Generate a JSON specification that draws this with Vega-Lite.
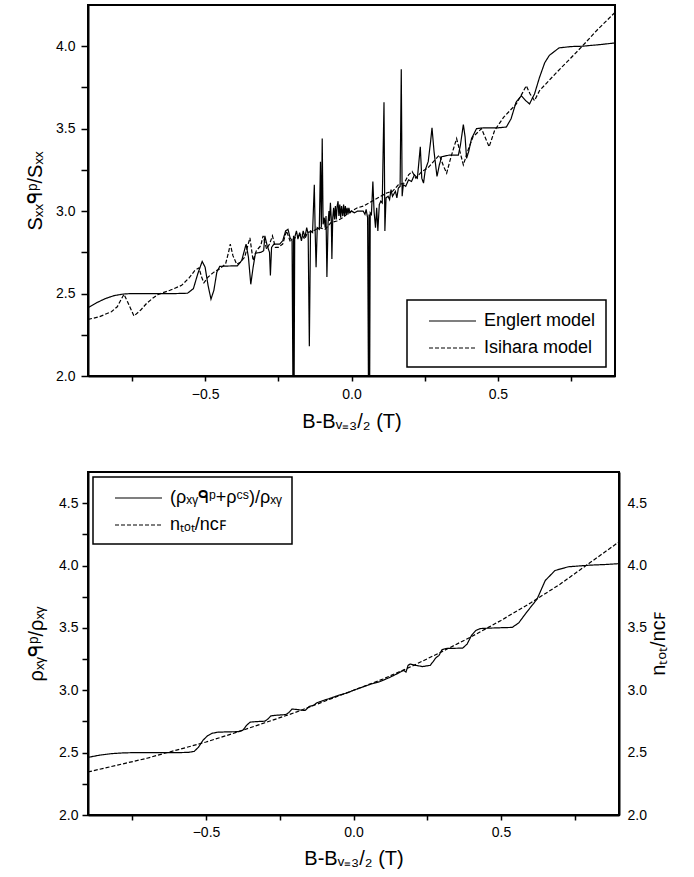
{
  "$schema": "https://vega.github.io/schema/vega-lite/v6.json",
  "padding": {"left": 24, "top": 4, "right": 5, "bottom": 5},
  "background": "white",
  "config": {
    "font": "Liberation Sans",
    "view": {"stroke": "black", "strokeWidth": 2},
    "axis": {
      "grid": false,
      "domainColor": "black",
      "domainWidth": 2,
      "tickColor": "black",
      "tickWidth": 1.5,
      "labelColor": "black",
      "labelFontSize": 14,
      "titleColor": "black",
      "titleFontSize": 20,
      "titleFontWeight": "normal",
      "labelFont": "Liberation Sans",
      "titleFont": "Liberation Sans"
    },
    "legend": {
      "strokeColor": "black",
      "strokeWidth": 1.5,
      "fillColor": "white",
      "labelFontSize": 18,
      "labelColor": "black",
      "labelFont": "Liberation Sans",
      "symbolType": "M0.1,0H4.8",
      "symbolStrokeColor": "black",
      "symbolStrokeWidth": 1.2,
      "symbolSize": 400,
      "rowPadding": 7,
      "labelOffset": 45,
      "padding": 10,
      "labelExpr": "datum.label + '\u00a0\u00a0\u00a0'"
    }
  },
  "resolve": {"scale": {"strokeDash": "independent"}, "legend": {"strokeDash": "independent"}},
  "datasets": {
    "top": [
      {"x": -0.9, "y": 2.414, "s": "Englert model"},
      {"x": -0.87, "y": 2.445, "s": "Englert model"},
      {"x": -0.84, "y": 2.47, "s": "Englert model"},
      {"x": -0.81, "y": 2.488, "s": "Englert model"},
      {"x": -0.78, "y": 2.497, "s": "Englert model"},
      {"x": -0.75, "y": 2.5, "s": "Englert model"},
      {"x": -0.7, "y": 2.5, "s": "Englert model"},
      {"x": -0.65, "y": 2.5, "s": "Englert model"},
      {"x": -0.6, "y": 2.5, "s": "Englert model"},
      {"x": -0.56, "y": 2.502, "s": "Englert model"},
      {"x": -0.54, "y": 2.53, "s": "Englert model"},
      {"x": -0.525, "y": 2.62, "s": "Englert model"},
      {"x": -0.51, "y": 2.695, "s": "Englert model"},
      {"x": -0.5, "y": 2.66, "s": "Englert model"},
      {"x": -0.49, "y": 2.55, "s": "Englert model"},
      {"x": -0.48, "y": 2.466, "s": "Englert model"},
      {"x": -0.47, "y": 2.52, "s": "Englert model"},
      {"x": -0.46, "y": 2.63, "s": "Englert model"},
      {"x": -0.45, "y": 2.665, "s": "Englert model"},
      {"x": -0.42, "y": 2.667, "s": "Englert model"},
      {"x": -0.39, "y": 2.668, "s": "Englert model"},
      {"x": -0.375, "y": 2.7, "s": "Englert model"},
      {"x": -0.36, "y": 2.8, "s": "Englert model"},
      {"x": -0.352, "y": 2.72, "s": "Englert model"},
      {"x": -0.344, "y": 2.556, "s": "Englert model"},
      {"x": -0.336, "y": 2.66, "s": "Englert model"},
      {"x": -0.328, "y": 2.745, "s": "Englert model"},
      {"x": -0.31, "y": 2.75, "s": "Englert model"},
      {"x": -0.3, "y": 2.76, "s": "Englert model"},
      {"x": -0.296, "y": 2.85, "s": "Englert model"},
      {"x": -0.288, "y": 2.79, "s": "Englert model"},
      {"x": -0.28, "y": 2.75, "s": "Englert model"},
      {"x": -0.277, "y": 2.61, "s": "Englert model"},
      {"x": -0.273, "y": 2.78, "s": "Englert model"},
      {"x": -0.265, "y": 2.8, "s": "Englert model"},
      {"x": -0.245, "y": 2.8, "s": "Englert model"},
      {"x": -0.235, "y": 2.82, "s": "Englert model"},
      {"x": -0.225, "y": 2.88, "s": "Englert model"},
      {"x": -0.217, "y": 2.89, "s": "Englert model"},
      {"x": -0.21, "y": 2.84, "s": "Englert model"},
      {"x": -0.203, "y": 2.82, "s": "Englert model"},
      {"x": -0.2, "y": 1.9, "s": "Englert model"},
      {"x": -0.198, "y": 2.85, "s": "Englert model"},
      {"x": -0.196, "y": 1.9, "s": "Englert model"},
      {"x": -0.194, "y": 2.84, "s": "Englert model"},
      {"x": -0.188, "y": 2.88, "s": "Englert model"},
      {"x": -0.183, "y": 2.83, "s": "Englert model"},
      {"x": -0.177, "y": 2.87, "s": "Englert model"},
      {"x": -0.171, "y": 2.82, "s": "Englert model"},
      {"x": -0.165, "y": 2.88, "s": "Englert model"},
      {"x": -0.159, "y": 2.84, "s": "Englert model"},
      {"x": -0.153, "y": 2.9, "s": "Englert model"},
      {"x": -0.148, "y": 2.86, "s": "Englert model"},
      {"x": -0.144, "y": 2.18, "s": "Englert model"},
      {"x": -0.14, "y": 2.88, "s": "Englert model"},
      {"x": -0.133, "y": 2.87, "s": "Englert model"},
      {"x": -0.127, "y": 3.16, "s": "Englert model"},
      {"x": -0.124, "y": 2.87, "s": "Englert model"},
      {"x": -0.121, "y": 2.66, "s": "Englert model"},
      {"x": -0.117, "y": 2.9, "s": "Englert model"},
      {"x": -0.11, "y": 2.89, "s": "Englert model"},
      {"x": -0.106, "y": 3.3, "s": "Englert model"},
      {"x": -0.103, "y": 2.9, "s": "Englert model"},
      {"x": -0.1, "y": 3.44, "s": "Englert model"},
      {"x": -0.097, "y": 2.92, "s": "Englert model"},
      {"x": -0.093, "y": 2.96, "s": "Englert model"},
      {"x": -0.09, "y": 2.9, "s": "Englert model"},
      {"x": -0.087, "y": 2.97, "s": "Englert model"},
      {"x": -0.084, "y": 2.6, "s": "Englert model"},
      {"x": -0.08, "y": 2.93, "s": "Englert model"},
      {"x": -0.077, "y": 3.0, "s": "Englert model"},
      {"x": -0.075, "y": 2.94, "s": "Englert model"},
      {"x": -0.072, "y": 3.05, "s": "Englert model"},
      {"x": -0.069, "y": 2.95, "s": "Englert model"},
      {"x": -0.067, "y": 2.71, "s": "Englert model"},
      {"x": -0.064, "y": 2.96, "s": "Englert model"},
      {"x": -0.061, "y": 3.02, "s": "Englert model"},
      {"x": -0.058, "y": 2.95, "s": "Englert model"},
      {"x": -0.055, "y": 3.03, "s": "Englert model"},
      {"x": -0.052, "y": 2.95, "s": "Englert model"},
      {"x": -0.049, "y": 3.03, "s": "Englert model"},
      {"x": -0.046, "y": 3.06, "s": "Englert model"},
      {"x": -0.043, "y": 2.97, "s": "Englert model"},
      {"x": -0.04, "y": 3.04, "s": "Englert model"},
      {"x": -0.037, "y": 2.96, "s": "Englert model"},
      {"x": -0.034, "y": 3.03, "s": "Englert model"},
      {"x": -0.03, "y": 2.97, "s": "Englert model"},
      {"x": -0.027, "y": 3.04, "s": "Englert model"},
      {"x": -0.024, "y": 2.97, "s": "Englert model"},
      {"x": -0.021, "y": 3.03, "s": "Englert model"},
      {"x": -0.018, "y": 2.98, "s": "Englert model"},
      {"x": -0.015, "y": 3.02, "s": "Englert model"},
      {"x": -0.012, "y": 2.98, "s": "Englert model"},
      {"x": -0.009, "y": 3.02, "s": "Englert model"},
      {"x": -0.005, "y": 2.99, "s": "Englert model"},
      {"x": 0.0, "y": 3.0, "s": "Englert model"},
      {"x": 0.01, "y": 2.99, "s": "Englert model"},
      {"x": 0.02, "y": 3.0, "s": "Englert model"},
      {"x": 0.03, "y": 3.0, "s": "Englert model"},
      {"x": 0.04, "y": 3.0, "s": "Englert model"},
      {"x": 0.046, "y": 2.98, "s": "Englert model"},
      {"x": 0.05, "y": 3.01, "s": "Englert model"},
      {"x": 0.055, "y": 2.96, "s": "Englert model"},
      {"x": 0.058, "y": 1.9, "s": "Englert model"},
      {"x": 0.06, "y": 2.98, "s": "Englert model"},
      {"x": 0.062, "y": 1.9, "s": "Englert model"},
      {"x": 0.064, "y": 2.99, "s": "Englert model"},
      {"x": 0.068, "y": 2.98, "s": "Englert model"},
      {"x": 0.073, "y": 3.18, "s": "Englert model"},
      {"x": 0.077, "y": 3.0, "s": "Englert model"},
      {"x": 0.082, "y": 2.9, "s": "Englert model"},
      {"x": 0.086, "y": 3.02, "s": "Englert model"},
      {"x": 0.09, "y": 2.88, "s": "Englert model"},
      {"x": 0.095, "y": 3.04, "s": "Englert model"},
      {"x": 0.1, "y": 3.06, "s": "Englert model"},
      {"x": 0.105, "y": 3.05, "s": "Englert model"},
      {"x": 0.111, "y": 3.66, "s": "Englert model"},
      {"x": 0.114, "y": 2.88, "s": "Englert model"},
      {"x": 0.118, "y": 3.08, "s": "Englert model"},
      {"x": 0.125, "y": 3.09, "s": "Englert model"},
      {"x": 0.13, "y": 3.07, "s": "Englert model"},
      {"x": 0.135, "y": 3.13, "s": "Englert model"},
      {"x": 0.14, "y": 3.09, "s": "Englert model"},
      {"x": 0.15, "y": 3.12, "s": "Englert model"},
      {"x": 0.155, "y": 3.08, "s": "Englert model"},
      {"x": 0.16, "y": 3.14, "s": "Englert model"},
      {"x": 0.166, "y": 3.15, "s": "Englert model"},
      {"x": 0.17, "y": 3.86, "s": "Englert model"},
      {"x": 0.173, "y": 3.09, "s": "Englert model"},
      {"x": 0.177, "y": 3.16, "s": "Englert model"},
      {"x": 0.185, "y": 3.15, "s": "Englert model"},
      {"x": 0.195, "y": 3.19, "s": "Englert model"},
      {"x": 0.205, "y": 3.18, "s": "Englert model"},
      {"x": 0.215, "y": 3.22, "s": "Englert model"},
      {"x": 0.225, "y": 3.2, "s": "Englert model"},
      {"x": 0.235, "y": 3.39, "s": "Englert model"},
      {"x": 0.24, "y": 3.2, "s": "Englert model"},
      {"x": 0.246, "y": 3.17, "s": "Englert model"},
      {"x": 0.252, "y": 3.25, "s": "Englert model"},
      {"x": 0.262, "y": 3.3, "s": "Englert model"},
      {"x": 0.27, "y": 3.42, "s": "Englert model"},
      {"x": 0.275, "y": 3.505, "s": "Englert model"},
      {"x": 0.282, "y": 3.36, "s": "Englert model"},
      {"x": 0.292, "y": 3.21, "s": "Englert model"},
      {"x": 0.3, "y": 3.28, "s": "Englert model"},
      {"x": 0.308, "y": 3.33, "s": "Englert model"},
      {"x": 0.335, "y": 3.34, "s": "Englert model"},
      {"x": 0.365, "y": 3.34, "s": "Englert model"},
      {"x": 0.372, "y": 3.4, "s": "Englert model"},
      {"x": 0.382, "y": 3.525, "s": "Englert model"},
      {"x": 0.388, "y": 3.45, "s": "Englert model"},
      {"x": 0.393, "y": 3.32, "s": "Englert model"},
      {"x": 0.4, "y": 3.36, "s": "Englert model"},
      {"x": 0.41, "y": 3.44, "s": "Englert model"},
      {"x": 0.427, "y": 3.5, "s": "Englert model"},
      {"x": 0.45, "y": 3.505, "s": "Englert model"},
      {"x": 0.5, "y": 3.505, "s": "Englert model"},
      {"x": 0.529, "y": 3.51, "s": "Englert model"},
      {"x": 0.545, "y": 3.56, "s": "Englert model"},
      {"x": 0.562, "y": 3.66, "s": "Englert model"},
      {"x": 0.58, "y": 3.7, "s": "Englert model"},
      {"x": 0.595, "y": 3.67, "s": "Englert model"},
      {"x": 0.608, "y": 3.65, "s": "Englert model"},
      {"x": 0.625, "y": 3.71, "s": "Englert model"},
      {"x": 0.642, "y": 3.81, "s": "Englert model"},
      {"x": 0.66, "y": 3.9, "s": "Englert model"},
      {"x": 0.676, "y": 3.945, "s": "Englert model"},
      {"x": 0.709, "y": 3.99, "s": "Englert model"},
      {"x": 0.75, "y": 3.998, "s": "Englert model"},
      {"x": 0.788, "y": 4.0, "s": "Englert model"},
      {"x": 0.85, "y": 4.01, "s": "Englert model"},
      {"x": 0.9, "y": 4.02, "s": "Englert model"},
      {"x": -0.9, "y": 2.343, "s": "Isihara model"},
      {"x": -0.86, "y": 2.36, "s": "Isihara model"},
      {"x": -0.82, "y": 2.39, "s": "Isihara model"},
      {"x": -0.8, "y": 2.42, "s": "Isihara model"},
      {"x": -0.785, "y": 2.47, "s": "Isihara model"},
      {"x": -0.777, "y": 2.495, "s": "Isihara model"},
      {"x": -0.765, "y": 2.45, "s": "Isihara model"},
      {"x": -0.743, "y": 2.364, "s": "Isihara model"},
      {"x": -0.72, "y": 2.4, "s": "Isihara model"},
      {"x": -0.7, "y": 2.44, "s": "Isihara model"},
      {"x": -0.68, "y": 2.47, "s": "Isihara model"},
      {"x": -0.66, "y": 2.495, "s": "Isihara model"},
      {"x": -0.62, "y": 2.52, "s": "Isihara model"},
      {"x": -0.58, "y": 2.55, "s": "Isihara model"},
      {"x": -0.554, "y": 2.596, "s": "Isihara model"},
      {"x": -0.535, "y": 2.64, "s": "Isihara model"},
      {"x": -0.521, "y": 2.656, "s": "Isihara model"},
      {"x": -0.512, "y": 2.6, "s": "Isihara model"},
      {"x": -0.504, "y": 2.565, "s": "Isihara model"},
      {"x": -0.49, "y": 2.6, "s": "Isihara model"},
      {"x": -0.47, "y": 2.63, "s": "Isihara model"},
      {"x": -0.45, "y": 2.65, "s": "Isihara model"},
      {"x": -0.43, "y": 2.68, "s": "Isihara model"},
      {"x": -0.42, "y": 2.75, "s": "Isihara model"},
      {"x": -0.414, "y": 2.8, "s": "Isihara model"},
      {"x": -0.405, "y": 2.73, "s": "Isihara model"},
      {"x": -0.392, "y": 2.677, "s": "Isihara model"},
      {"x": -0.38, "y": 2.69, "s": "Isihara model"},
      {"x": -0.365, "y": 2.72, "s": "Isihara model"},
      {"x": -0.347, "y": 2.838, "s": "Isihara model"},
      {"x": -0.336, "y": 2.7, "s": "Isihara model"},
      {"x": -0.325, "y": 2.76, "s": "Isihara model"},
      {"x": -0.31, "y": 2.79, "s": "Isihara model"},
      {"x": -0.302, "y": 2.85, "s": "Isihara model"},
      {"x": -0.29, "y": 2.77, "s": "Isihara model"},
      {"x": -0.28, "y": 2.8, "s": "Isihara model"},
      {"x": -0.27, "y": 2.85, "s": "Isihara model"},
      {"x": -0.26, "y": 2.78, "s": "Isihara model"},
      {"x": -0.25, "y": 2.78, "s": "Isihara model"},
      {"x": -0.235, "y": 2.8, "s": "Isihara model"},
      {"x": -0.222, "y": 2.88, "s": "Isihara model"},
      {"x": -0.21, "y": 2.82, "s": "Isihara model"},
      {"x": -0.19, "y": 2.84, "s": "Isihara model"},
      {"x": -0.17, "y": 2.86, "s": "Isihara model"},
      {"x": -0.16, "y": 2.83, "s": "Isihara model"},
      {"x": -0.15, "y": 2.87, "s": "Isihara model"},
      {"x": -0.13, "y": 2.88, "s": "Isihara model"},
      {"x": -0.11, "y": 2.9, "s": "Isihara model"},
      {"x": -0.09, "y": 2.89, "s": "Isihara model"},
      {"x": -0.07, "y": 2.93, "s": "Isihara model"},
      {"x": -0.05, "y": 2.94, "s": "Isihara model"},
      {"x": -0.03, "y": 2.96, "s": "Isihara model"},
      {"x": -0.01, "y": 2.99, "s": "Isihara model"},
      {"x": 0.0, "y": 3.0, "s": "Isihara model"},
      {"x": 0.02, "y": 3.02, "s": "Isihara model"},
      {"x": 0.04, "y": 3.03, "s": "Isihara model"},
      {"x": 0.06, "y": 3.05, "s": "Isihara model"},
      {"x": 0.08, "y": 3.07, "s": "Isihara model"},
      {"x": 0.1, "y": 3.09, "s": "Isihara model"},
      {"x": 0.12, "y": 3.11, "s": "Isihara model"},
      {"x": 0.14, "y": 3.12, "s": "Isihara model"},
      {"x": 0.16, "y": 3.16, "s": "Isihara model"},
      {"x": 0.18, "y": 3.17, "s": "Isihara model"},
      {"x": 0.195, "y": 3.22, "s": "Isihara model"},
      {"x": 0.207, "y": 3.24, "s": "Isihara model"},
      {"x": 0.22, "y": 3.2, "s": "Isihara model"},
      {"x": 0.24, "y": 3.24, "s": "Isihara model"},
      {"x": 0.26, "y": 3.26, "s": "Isihara model"},
      {"x": 0.28, "y": 3.3, "s": "Isihara model"},
      {"x": 0.3, "y": 3.34, "s": "Isihara model"},
      {"x": 0.315, "y": 3.27, "s": "Isihara model"},
      {"x": 0.325, "y": 3.23, "s": "Isihara model"},
      {"x": 0.34, "y": 3.33, "s": "Isihara model"},
      {"x": 0.359, "y": 3.44, "s": "Isihara model"},
      {"x": 0.372, "y": 3.35, "s": "Isihara model"},
      {"x": 0.382, "y": 3.28, "s": "Isihara model"},
      {"x": 0.4, "y": 3.38, "s": "Isihara model"},
      {"x": 0.415, "y": 3.45, "s": "Isihara model"},
      {"x": 0.444, "y": 3.5, "s": "Isihara model"},
      {"x": 0.47, "y": 3.39, "s": "Isihara model"},
      {"x": 0.489, "y": 3.49, "s": "Isihara model"},
      {"x": 0.52, "y": 3.57, "s": "Isihara model"},
      {"x": 0.563, "y": 3.65, "s": "Isihara model"},
      {"x": 0.585, "y": 3.72, "s": "Isihara model"},
      {"x": 0.597, "y": 3.76, "s": "Isihara model"},
      {"x": 0.61, "y": 3.71, "s": "Isihara model"},
      {"x": 0.625, "y": 3.67, "s": "Isihara model"},
      {"x": 0.642, "y": 3.73, "s": "Isihara model"},
      {"x": 0.7, "y": 3.84, "s": "Isihara model"},
      {"x": 0.75, "y": 3.93, "s": "Isihara model"},
      {"x": 0.788, "y": 4.0, "s": "Isihara model"},
      {"x": 0.84, "y": 4.1, "s": "Isihara model"},
      {"x": 0.9, "y": 4.205, "s": "Isihara model"}
    ],
    "bottom": [
      {"x": -0.9, "y": 2.462, "s": "(ρₓᵧᑫᵖ+ρᶜˢ)/ρₓᵧ"},
      {"x": -0.86, "y": 2.48, "s": "(ρₓᵧᑫᵖ+ρᶜˢ)/ρₓᵧ"},
      {"x": -0.82, "y": 2.492, "s": "(ρₓᵧᑫᵖ+ρᶜˢ)/ρₓᵧ"},
      {"x": -0.786, "y": 2.497, "s": "(ρₓᵧᑫᵖ+ρᶜˢ)/ρₓᵧ"},
      {"x": -0.75, "y": 2.5, "s": "(ρₓᵧᑫᵖ+ρᶜˢ)/ρₓᵧ"},
      {"x": -0.7, "y": 2.5, "s": "(ρₓᵧᑫᵖ+ρᶜˢ)/ρₓᵧ"},
      {"x": -0.65, "y": 2.5, "s": "(ρₓᵧᑫᵖ+ρᶜˢ)/ρₓᵧ"},
      {"x": -0.6, "y": 2.5, "s": "(ρₓᵧᑫᵖ+ρᶜˢ)/ρₓᵧ"},
      {"x": -0.56, "y": 2.502, "s": "(ρₓᵧᑫᵖ+ρᶜˢ)/ρₓᵧ"},
      {"x": -0.54, "y": 2.51, "s": "(ρₓᵧᑫᵖ+ρᶜˢ)/ρₓᵧ"},
      {"x": -0.525, "y": 2.545, "s": "(ρₓᵧᑫᵖ+ρᶜˢ)/ρₓᵧ"},
      {"x": -0.51, "y": 2.6, "s": "(ρₓᵧᑫᵖ+ρᶜˢ)/ρₓᵧ"},
      {"x": -0.495, "y": 2.635, "s": "(ρₓᵧᑫᵖ+ρᶜˢ)/ρₓᵧ"},
      {"x": -0.48, "y": 2.655, "s": "(ρₓᵧᑫᵖ+ρᶜˢ)/ρₓᵧ"},
      {"x": -0.46, "y": 2.664, "s": "(ρₓᵧᑫᵖ+ρᶜˢ)/ρₓᵧ"},
      {"x": -0.42, "y": 2.667, "s": "(ρₓᵧᑫᵖ+ρᶜˢ)/ρₓᵧ"},
      {"x": -0.39, "y": 2.668, "s": "(ρₓᵧᑫᵖ+ρᶜˢ)/ρₓᵧ"},
      {"x": -0.375, "y": 2.68, "s": "(ρₓᵧᑫᵖ+ρᶜˢ)/ρₓᵧ"},
      {"x": -0.362, "y": 2.72, "s": "(ρₓᵧᑫᵖ+ρᶜˢ)/ρₓᵧ"},
      {"x": -0.35, "y": 2.745, "s": "(ρₓᵧᑫᵖ+ρᶜˢ)/ρₓᵧ"},
      {"x": -0.32, "y": 2.75, "s": "(ρₓᵧᑫᵖ+ρᶜˢ)/ρₓᵧ"},
      {"x": -0.3, "y": 2.752, "s": "(ρₓᵧᑫᵖ+ρᶜˢ)/ρₓᵧ"},
      {"x": -0.29, "y": 2.77, "s": "(ρₓᵧᑫᵖ+ρᶜˢ)/ρₓᵧ"},
      {"x": -0.28, "y": 2.795, "s": "(ρₓᵧᑫᵖ+ρᶜˢ)/ρₓᵧ"},
      {"x": -0.26, "y": 2.8, "s": "(ρₓᵧᑫᵖ+ρᶜˢ)/ρₓᵧ"},
      {"x": -0.23, "y": 2.805, "s": "(ρₓᵧᑫᵖ+ρᶜˢ)/ρₓᵧ"},
      {"x": -0.22, "y": 2.82, "s": "(ρₓᵧᑫᵖ+ρᶜˢ)/ρₓᵧ"},
      {"x": -0.208, "y": 2.85, "s": "(ρₓᵧᑫᵖ+ρᶜˢ)/ρₓᵧ"},
      {"x": -0.19, "y": 2.845, "s": "(ρₓᵧᑫᵖ+ρᶜˢ)/ρₓᵧ"},
      {"x": -0.175, "y": 2.84, "s": "(ρₓᵧᑫᵖ+ρᶜˢ)/ρₓᵧ"},
      {"x": -0.164, "y": 2.838, "s": "(ρₓᵧᑫᵖ+ρᶜˢ)/ρₓᵧ"},
      {"x": -0.15, "y": 2.87, "s": "(ρₓᵧᑫᵖ+ρᶜˢ)/ρₓᵧ"},
      {"x": -0.135, "y": 2.88, "s": "(ρₓᵧᑫᵖ+ρᶜˢ)/ρₓᵧ"},
      {"x": -0.124, "y": 2.9, "s": "(ρₓᵧᑫᵖ+ρᶜˢ)/ρₓᵧ"},
      {"x": -0.1, "y": 2.92, "s": "(ρₓᵧᑫᵖ+ρᶜˢ)/ρₓᵧ"},
      {"x": -0.08, "y": 2.935, "s": "(ρₓᵧᑫᵖ+ρᶜˢ)/ρₓᵧ"},
      {"x": -0.05, "y": 2.96, "s": "(ρₓᵧᑫᵖ+ρᶜˢ)/ρₓᵧ"},
      {"x": -0.02, "y": 2.98, "s": "(ρₓᵧᑫᵖ+ρᶜˢ)/ρₓᵧ"},
      {"x": 0.0, "y": 3.0, "s": "(ρₓᵧᑫᵖ+ρᶜˢ)/ρₓᵧ"},
      {"x": 0.03, "y": 3.025, "s": "(ρₓᵧᑫᵖ+ρᶜˢ)/ρₓᵧ"},
      {"x": 0.06, "y": 3.05, "s": "(ρₓᵧᑫᵖ+ρᶜˢ)/ρₓᵧ"},
      {"x": 0.09, "y": 3.07, "s": "(ρₓᵧᑫᵖ+ρᶜˢ)/ρₓᵧ"},
      {"x": 0.12, "y": 3.1, "s": "(ρₓᵧᑫᵖ+ρᶜˢ)/ρₓᵧ"},
      {"x": 0.15, "y": 3.135, "s": "(ρₓᵧᑫᵖ+ρᶜˢ)/ρₓᵧ"},
      {"x": 0.17, "y": 3.16, "s": "(ρₓᵧᑫᵖ+ρᶜˢ)/ρₓᵧ"},
      {"x": 0.178, "y": 3.146, "s": "(ρₓᵧᑫᵖ+ρᶜˢ)/ρₓᵧ"},
      {"x": 0.185, "y": 3.2, "s": "(ρₓᵧᑫᵖ+ρᶜˢ)/ρₓᵧ"},
      {"x": 0.192, "y": 3.21, "s": "(ρₓᵧᑫᵖ+ρᶜˢ)/ρₓᵧ"},
      {"x": 0.21, "y": 3.2, "s": "(ρₓᵧᑫᵖ+ρᶜˢ)/ρₓᵧ"},
      {"x": 0.234, "y": 3.19, "s": "(ρₓᵧᑫᵖ+ρᶜˢ)/ρₓᵧ"},
      {"x": 0.26, "y": 3.2, "s": "(ρₓᵧᑫᵖ+ρᶜˢ)/ρₓᵧ"},
      {"x": 0.27, "y": 3.23, "s": "(ρₓᵧᑫᵖ+ρᶜˢ)/ρₓᵧ"},
      {"x": 0.279, "y": 3.26, "s": "(ρₓᵧᑫᵖ+ρᶜˢ)/ρₓᵧ"},
      {"x": 0.29, "y": 3.28, "s": "(ρₓᵧᑫᵖ+ρᶜˢ)/ρₓᵧ"},
      {"x": 0.3, "y": 3.325, "s": "(ρₓᵧᑫᵖ+ρᶜˢ)/ρₓᵧ"},
      {"x": 0.313, "y": 3.335, "s": "(ρₓᵧᑫᵖ+ρᶜˢ)/ρₓᵧ"},
      {"x": 0.37, "y": 3.338, "s": "(ρₓᵧᑫᵖ+ρᶜˢ)/ρₓᵧ"},
      {"x": 0.385, "y": 3.37, "s": "(ρₓᵧᑫᵖ+ρᶜˢ)/ρₓᵧ"},
      {"x": 0.4, "y": 3.44, "s": "(ρₓᵧᑫᵖ+ρᶜˢ)/ρₓᵧ"},
      {"x": 0.415, "y": 3.48, "s": "(ρₓᵧᑫᵖ+ρᶜˢ)/ρₓᵧ"},
      {"x": 0.43, "y": 3.495, "s": "(ρₓᵧᑫᵖ+ρᶜˢ)/ρₓᵧ"},
      {"x": 0.48, "y": 3.5, "s": "(ρₓᵧᑫᵖ+ρᶜˢ)/ρₓᵧ"},
      {"x": 0.538, "y": 3.504, "s": "(ρₓᵧᑫᵖ+ρᶜˢ)/ρₓᵧ"},
      {"x": 0.56, "y": 3.54, "s": "(ρₓᵧᑫᵖ+ρᶜˢ)/ρₓᵧ"},
      {"x": 0.582, "y": 3.61, "s": "(ρₓᵧᑫᵖ+ρᶜˢ)/ρₓᵧ"},
      {"x": 0.605, "y": 3.68, "s": "(ρₓᵧᑫᵖ+ρᶜˢ)/ρₓᵧ"},
      {"x": 0.622, "y": 3.73, "s": "(ρₓᵧᑫᵖ+ρᶜˢ)/ρₓᵧ"},
      {"x": 0.65, "y": 3.88, "s": "(ρₓᵧᑫᵖ+ρᶜˢ)/ρₓᵧ"},
      {"x": 0.683, "y": 3.96, "s": "(ρₓᵧᑫᵖ+ρᶜˢ)/ρₓᵧ"},
      {"x": 0.728, "y": 3.99, "s": "(ρₓᵧᑫᵖ+ρᶜˢ)/ρₓᵧ"},
      {"x": 0.8, "y": 4.003, "s": "(ρₓᵧᑫᵖ+ρᶜˢ)/ρₓᵧ"},
      {"x": 0.85, "y": 4.008, "s": "(ρₓᵧᑫᵖ+ρᶜˢ)/ρₓᵧ"},
      {"x": 0.9, "y": 4.015, "s": "(ρₓᵧᑫᵖ+ρᶜˢ)/ρₓᵧ"},
      {"x": -0.9, "y": 2.345, "s": "nₜₒₜ/nᴄꜰ"},
      {"x": -0.8, "y": 2.4, "s": "nₜₒₜ/nᴄꜰ"},
      {"x": -0.7, "y": 2.455, "s": "nₜₒₜ/nᴄꜰ"},
      {"x": -0.64, "y": 2.495, "s": "nₜₒₜ/nᴄꜰ"},
      {"x": -0.6, "y": 2.52, "s": "nₜₒₜ/nᴄꜰ"},
      {"x": -0.5, "y": 2.585, "s": "nₜₒₜ/nᴄꜰ"},
      {"x": -0.4, "y": 2.66, "s": "nₜₒₜ/nᴄꜰ"},
      {"x": -0.3, "y": 2.74, "s": "nₜₒₜ/nᴄꜰ"},
      {"x": -0.2, "y": 2.82, "s": "nₜₒₜ/nᴄꜰ"},
      {"x": -0.1, "y": 2.91, "s": "nₜₒₜ/nᴄꜰ"},
      {"x": 0.0, "y": 3.0, "s": "nₜₒₜ/nᴄꜰ"},
      {"x": 0.1, "y": 3.09, "s": "nₜₒₜ/nᴄꜰ"},
      {"x": 0.2, "y": 3.195, "s": "nₜₒₜ/nᴄꜰ"},
      {"x": 0.3, "y": 3.31, "s": "nₜₒₜ/nᴄꜰ"},
      {"x": 0.4, "y": 3.43, "s": "nₜₒₜ/nᴄꜰ"},
      {"x": 0.5, "y": 3.56, "s": "nₜₒₜ/nᴄꜰ"},
      {"x": 0.6, "y": 3.7, "s": "nₜₒₜ/nᴄꜰ"},
      {"x": 0.7, "y": 3.85, "s": "nₜₒₜ/nᴄꜰ"},
      {"x": 0.8, "y": 4.02, "s": "nₜₒₜ/nᴄꜰ"},
      {"x": 0.9, "y": 4.19, "s": "nₜₒₜ/nᴄꜰ"}
    ]
  },
  "spacing": 39,
  "vconcat": [
    {
      "width": 527,
      "height": 371,
      "data": {"name": "top"},
      "mark": {"type": "line", "color": "black", "strokeWidth": 1.2, "clip": true},
      "encoding": {
        "x": {
          "field": "x", "type": "quantitative",
          "scale": {"domain": [-0.9, 0.9], "nice": false, "zero": false},
          "axis": {
            "title": "B-Bᵥ₌₃/₂ (T)",
            "values": [-0.75, -0.5, -0.25, 0, 0.25, 0.5, 0.75],
            "labelExpr": "abs(datum.value*2 - round(datum.value*2)) < 0.001 ? format(datum.value, '.1f') : ''",
            "tickSize": 5, "labelPadding": 6, "titlePadding": 10
          }
        },
        "y": {
          "field": "y", "type": "quantitative",
          "scale": {"domain": [2, 4.25], "nice": false, "zero": false},
          "axis": {
            "title": "Sₓₓᑫᵖ/Sₓₓ",
            "values": [2, 2.25, 2.5, 2.75, 3, 3.25, 3.5, 3.75, 4],
            "labelExpr": "abs(datum.value*2 - round(datum.value*2)) < 0.001 ? format(datum.value, '.1f') : ''",
            "tickSize": 7, "labelPadding": 6, "titlePadding": 10
          }
        },
        "strokeDash": {
          "field": "s", "type": "nominal",
          "scale": {"domain": ["Englert model", "Isihara model"], "range": [[1, 0], [4, 2]]},
          "legend": {"title": null, "orient": "bottom-right", "offset": 9}
        }
      }
    },
    {
      "width": 531,
      "height": 343,
      "data": {"name": "bottom"},
      "layer": [
        {
          "transform": [{"filter": "datum.s == '(ρₓᵧᑫᵖ+ρᶜˢ)/ρₓᵧ'"}],
          "mark": {"type": "line", "color": "black", "strokeWidth": 1.2, "clip": true},
          "encoding": {
            "x": {
              "field": "x", "type": "quantitative",
              "scale": {"domain": [-0.9, 0.9], "nice": false, "zero": false},
              "axis": {
                "title": "B-Bᵥ₌₃/₂ (T)",
                "values": [-0.75, -0.5, -0.25, 0, 0.25, 0.5, 0.75],
                "labelExpr": "abs(datum.value*2 - round(datum.value*2)) < 0.001 ? format(datum.value, '.1f') : ''",
                "tickSize": 5, "labelPadding": 5, "titlePadding": 9
              }
            },
            "y": {
              "field": "y", "type": "quantitative",
              "scale": {"domain": [2, 4.75], "nice": false, "zero": false},
              "axis": {
                "title": "ρₓᵧᑫᵖ/ρₓᵧ",
                "values": [2, 2.25, 2.5, 2.75, 3, 3.25, 3.5, 3.75, 4, 4.25, 4.5],
                "labelExpr": "abs(datum.value*2 - round(datum.value*2)) < 0.001 ? format(datum.value, '.1f') : ''",
                "tickSize": 6, "labelPadding": 4, "titlePadding": 12
              }
            },
            "strokeDash": {
              "field": "s", "type": "nominal",
              "scale": {"domain": ["(ρₓᵧᑫᵖ+ρᶜˢ)/ρₓᵧ", "nₜₒₜ/nᴄꜰ"], "range": [[1, 0], [4, 2]]},
              "legend": {"title": null, "orient": "top-left", "offset": 5}
            }
          }
        },
        {
          "transform": [{"filter": "datum.s == 'nₜₒₜ/nᴄꜰ'"}],
          "mark": {"type": "line", "color": "black", "strokeWidth": 1.2, "clip": true},
          "encoding": {
            "x": {"field": "x", "type": "quantitative"},
            "y": {
              "field": "y", "type": "quantitative",
              "axis": {
                "orient": "right",
                "title": "nₜₒₜ/nᴄꜰ",
                "titleAngle": 270,
                "values": [2, 2.5, 3, 3.5, 4, 4.5],
                "format": ".1f",
                "ticks": false, "labelPadding": 8, "titlePadding": 22
              }
            },
            "strokeDash": {"field": "s", "type": "nominal"}
          }
        }
      ],
      "resolve": {"axis": {"y": "independent"}}
    }
  ]
}
